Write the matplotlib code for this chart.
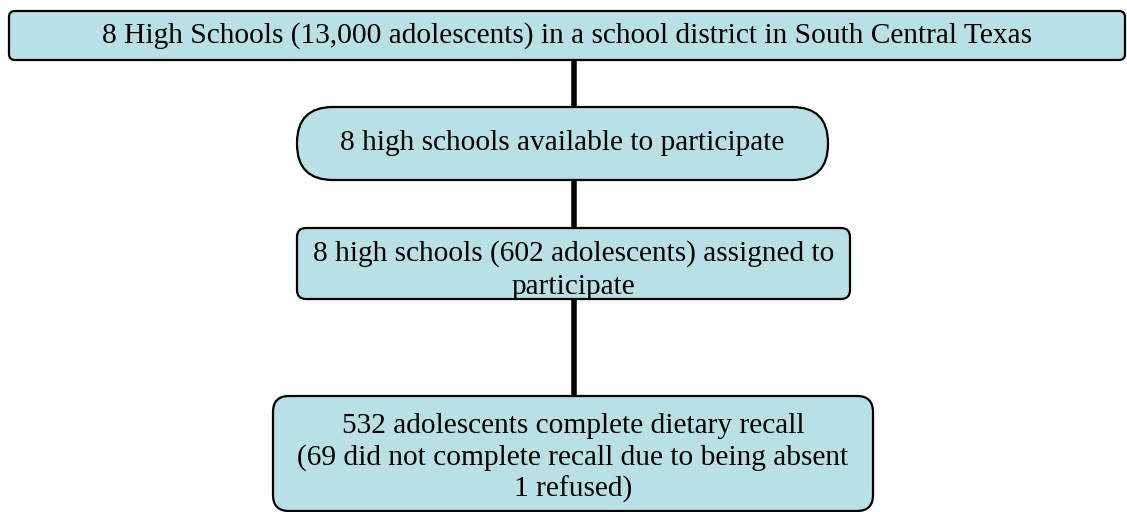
import matplotlib
matplotlib.use("Agg")
import matplotlib.pyplot as plt
from matplotlib.patches import FancyBboxPatch

W, H = 1127, 512

box_texts = [
    ["8 High Schools (13,000 adolescents) in a school district in South Central Texas"],
    ["8 high schools available to participate"],
    ["8 high schools (602 adolescents) assigned to", "participate"],
    ["532 adolescents complete dietary recall",
     "(69 did not complete recall due to being absent",
     "1 refused)"],
]
# left, top, right, bottom in pixel coordinates; rounding radius
box_geom = [
    (9, 11, 1125, 60, 6),
    (297, 107, 828, 180, 36),
    (297, 228, 850, 299, 9),
    (273, 396, 873, 511, 16),
]
first_baseline = [43, 150, 261, 433]
line_steps = [0, 0, 33, 32]
line_x = 574

fig = plt.figure(figsize=(W / 100, H / 100), dpi=100)
ax = fig.add_axes([0, 0, 1, 1])
ax.set_xlim(0, W)
ax.set_ylim(H, 0)
ax.axis("off")

fill = "#B9E0E4"

# connectors
for (l1, t1, r1, b1, _), (l2, t2, r2, b2, _) in zip(box_geom[:-1], box_geom[1:]):
    ax.plot([line_x, line_x], [b1, t2], color="black", lw=4.0, solid_capstyle="butt", zorder=1)

for (l, t, r, b, rad), lines, by, step in zip(box_geom, box_texts, first_baseline, line_steps):
    p = FancyBboxPatch((l, t), r - l, b - t,
                       boxstyle=f"round,pad=0,rounding_size={rad}",
                       facecolor=fill, edgecolor="black", lw=1.6, zorder=2)
    ax.add_patch(p)
    for i, line in enumerate(lines):
        ax.text((l + r) / 2, by + i * step, line, ha="center", va="baseline",
                fontsize=21.2, family="Liberation Serif", zorder=3)

fig.savefig("out.png", dpi=100)
